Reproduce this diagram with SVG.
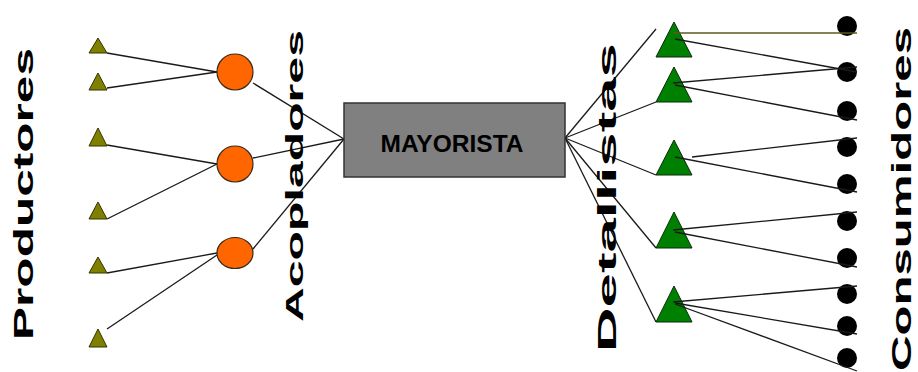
<svg xmlns="http://www.w3.org/2000/svg" width="918" height="372" viewBox="0 0 918 372">
<style>
.bg{fill:#ffffff}
.ln{stroke:#1a1a1a;stroke-width:1.3;fill:none}
.prod{fill:#808000;stroke:#333300;stroke-width:1}
.acop{fill:#ff6600;stroke:#3a2a1a;stroke-width:1.2}
.det{fill:#008000;stroke:#0a2a0a;stroke-width:1}
.cons{fill:#000000}
.box{fill:#808080;stroke:#333333;stroke-width:1.5}
.lbl{font-family:"Liberation Sans",Arial,sans-serif;font-weight:bold;fill:#000000}
</style>
<rect class="bg" x="0" y="0" width="918" height="372"/>

<g id="connectors">
  <line class="ln" x1="107" y1="53" x2="217" y2="72"/>
  <line class="ln" x1="107" y1="88" x2="217" y2="72"/>
  <line class="ln" x1="107" y1="145" x2="217" y2="164"/>
  <line class="ln" x1="107" y1="219" x2="217" y2="164"/>
  <line class="ln" x1="107" y1="273" x2="217" y2="253"/>
  <line class="ln" x1="107" y1="329" x2="217" y2="255"/>
  <line class="ln" x1="253" y1="83" x2="344" y2="139"/>
  <line class="ln" x1="253" y1="158" x2="344" y2="139"/>
  <line class="ln" x1="253" y1="249" x2="344" y2="139"/>
  <line class="ln" x1="565" y1="138" x2="656" y2="29"/>
  <line class="ln" x1="565" y1="138" x2="656" y2="102"/>
  <line class="ln" x1="565" y1="138" x2="656" y2="175"/>
  <line class="ln" x1="565" y1="138" x2="656" y2="248"/>
  <line class="ln" x1="565" y1="138" x2="656" y2="322"/>
</g>

<g id="productores">
  <polygon class="prod" points="89,53 98,38 107,53"/>
  <polygon class="prod" points="89,90 98,73 107,90"/>
  <polygon class="prod" points="89,146 98,128 107,146"/>
  <polygon class="prod" points="89,219 98,202 107,219"/>
  <polygon class="prod" points="89,273 98,257 107,273"/>
  <polygon class="prod" points="89,347 98,329 107,347"/>
</g>

<g id="acopladores">
  <ellipse class="acop" cx="235" cy="72" rx="18" ry="18"/>
  <ellipse class="acop" cx="235" cy="164" rx="18" ry="18"/>
  <ellipse class="acop" cx="235" cy="253" rx="18" ry="15.5"/>
</g>

<g id="mayorista">
  <rect class="box" x="344" y="103" width="221" height="74"/>
  <text class="lbl" x="452" y="151.5" font-size="23" text-anchor="middle" textLength="143" lengthAdjust="spacingAndGlyphs">MAYORISTA</text>
</g>

<g id="detallistas">
  <polygon class="det" points="656,57 674,22 692,57"/>
  <polygon class="det" points="656,102 674,67 692,102"/>
  <polygon class="det" points="656,175 674,140 692,175"/>
  <polygon class="det" points="656,248 674,212 692,248"/>
  <polygon class="det" points="656,322 674,286 692,322"/>
</g>

<g id="consumidores">
  <circle class="cons" cx="847" cy="26" r="10"/>
  <circle class="cons" cx="847" cy="72" r="10"/>
  <circle class="cons" cx="847" cy="111" r="10"/>
  <circle class="cons" cx="847" cy="147" r="10"/>
  <circle class="cons" cx="847" cy="184" r="10"/>
  <circle class="cons" cx="847" cy="221" r="10"/>
  <circle class="cons" cx="847" cy="258" r="10"/>
  <circle class="cons" cx="847" cy="294" r="10"/>
  <circle class="cons" cx="847" cy="326" r="10"/>
  <circle class="cons" cx="847" cy="358" r="10"/>
</g>

<g id="connectors-right">
  <line x1="673" y1="33" x2="857" y2="33" stroke="#5c5a1e" stroke-width="1.3"/>
  <line class="ln" x1="675" y1="39" x2="857" y2="72"/>
  <line class="ln" x1="673" y1="83" x2="857" y2="67"/>
  <line class="ln" x1="675" y1="85" x2="857" y2="120"/>
  <line class="ln" x1="692" y1="157" x2="857" y2="138"/>
  <line class="ln" x1="675" y1="157" x2="857" y2="192"/>
  <line class="ln" x1="673" y1="230" x2="857" y2="212"/>
  <line class="ln" x1="675" y1="232" x2="857" y2="267"/>
  <line class="ln" x1="673" y1="302" x2="857" y2="286"/>
  <line class="ln" x1="675" y1="303" x2="857" y2="334"/>
  <line class="ln" x1="675" y1="304" x2="857" y2="371"/>
</g>

<g id="labels">
  <text class="lbl" font-size="28" transform="translate(33,340) rotate(-90)" textLength="292" lengthAdjust="spacingAndGlyphs">Productores</text>
  <text class="lbl" font-size="24" transform="translate(303,322) rotate(-90)" textLength="292" lengthAdjust="spacingAndGlyphs">Acopladores</text>
  <text class="lbl" font-size="26" transform="translate(616,352) rotate(-90)" textLength="309" lengthAdjust="spacingAndGlyphs">Detallistas</text>
  <text class="lbl" font-size="28" transform="translate(911,371) rotate(-90)" textLength="344" lengthAdjust="spacingAndGlyphs">Consumidores</text>
</g>
</svg>
